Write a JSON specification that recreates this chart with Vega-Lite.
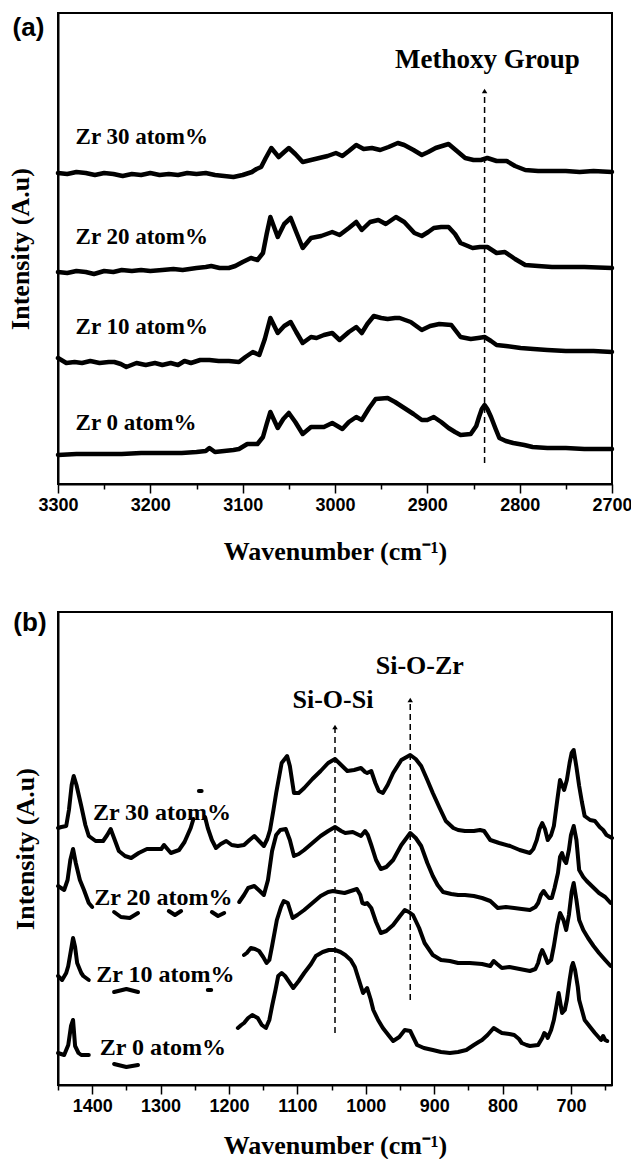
{
"$schema": "https://vega.github.io/schema/vega-lite/v6.json",
"background": "white",
"padding": {"left": 6, "top": 12, "right": 0, "bottom": 0},
"spacing": 44,
"align": "none",
"config": {
  "view": {"stroke": "black", "strokeWidth": 2},
  "axis": {"grid": false, "domainColor": "black", "domainWidth": 2, "titleColor": "black", "labelColor": "black", "tickColor": "black"},
  "text": {"color": "black"}
},
"datasets": {
"a_curves": [
{"s":"30","g":1,"wn":3300,"I":311},{"s":"30","g":1,"wn":3290,"I":310},{"s":"30","g":1,"wn":3280,"I":312},{"s":"30","g":1,"wn":3270,"I":311},{"s":"30","g":1,"wn":3260,"I":309},{"s":"30","g":1,"wn":3250,"I":311},{"s":"30","g":1,"wn":3240,"I":310},{"s":"30","g":1,"wn":3230,"I":308},{"s":"30","g":1,"wn":3220,"I":310},{"s":"30","g":1,"wn":3210,"I":309},{"s":"30","g":1,"wn":3200,"I":311},{"s":"30","g":1,"wn":3190,"I":309},{"s":"30","g":1,"wn":3180,"I":310},{"s":"30","g":1,"wn":3170,"I":309},{"s":"30","g":1,"wn":3160,"I":311},{"s":"30","g":1,"wn":3150,"I":310},{"s":"30","g":1,"wn":3140,"I":311},{"s":"30","g":1,"wn":3130,"I":309},{"s":"30","g":1,"wn":3120,"I":308},{"s":"30","g":1,"wn":3110,"I":307},{"s":"30","g":1,"wn":3100,"I":309},{"s":"30","g":1,"wn":3090,"I":312},{"s":"30","g":1,"wn":3085,"I":315},{"s":"30","g":1,"wn":3080,"I":317},{"s":"30","g":1,"wn":3075,"I":326},{"s":"30","g":1,"wn":3069,"I":336},{"s":"30","g":1,"wn":3061,"I":327},{"s":"30","g":1,"wn":3055,"I":332},{"s":"30","g":1,"wn":3050,"I":336},{"s":"30","g":1,"wn":3043,"I":330},{"s":"30","g":1,"wn":3035,"I":322},{"s":"30","g":1,"wn":3026,"I":324},{"s":"30","g":1,"wn":3017,"I":326},{"s":"30","g":1,"wn":3008,"I":328},{"s":"30","g":1,"wn":2999,"I":331},{"s":"30","g":1,"wn":2992,"I":328},{"s":"30","g":1,"wn":2985,"I":333},{"s":"30","g":1,"wn":2977,"I":339},{"s":"30","g":1,"wn":2969,"I":335},{"s":"30","g":1,"wn":2960,"I":336},{"s":"30","g":1,"wn":2951,"I":334},{"s":"30","g":1,"wn":2942,"I":337},{"s":"30","g":1,"wn":2932,"I":341},{"s":"30","g":1,"wn":2925,"I":339},{"s":"30","g":1,"wn":2915,"I":334},{"s":"30","g":1,"wn":2906,"I":329},{"s":"30","g":1,"wn":2899,"I":332},{"s":"30","g":1,"wn":2891,"I":336},{"s":"30","g":1,"wn":2884,"I":338},{"s":"30","g":1,"wn":2877,"I":340},{"s":"30","g":1,"wn":2868,"I":333},{"s":"30","g":1,"wn":2859,"I":326},{"s":"30","g":1,"wn":2850,"I":324},{"s":"30","g":1,"wn":2842,"I":324},{"s":"30","g":1,"wn":2835,"I":326},{"s":"30","g":1,"wn":2825,"I":323},{"s":"30","g":1,"wn":2814,"I":323},{"s":"30","g":1,"wn":2805,"I":318},{"s":"30","g":1,"wn":2794,"I":314},{"s":"30","g":1,"wn":2780,"I":313},{"s":"30","g":1,"wn":2765,"I":313},{"s":"30","g":1,"wn":2750,"I":313},{"s":"30","g":1,"wn":2735,"I":312},{"s":"30","g":1,"wn":2720,"I":313},{"s":"30","g":1,"wn":2700,"I":312},
{"s":"20","g":1,"wn":3300,"I":212},{"s":"20","g":1,"wn":3290,"I":211},{"s":"20","g":1,"wn":3280,"I":213},{"s":"20","g":1,"wn":3270,"I":212},{"s":"20","g":1,"wn":3261,"I":210},{"s":"20","g":1,"wn":3250,"I":213},{"s":"20","g":1,"wn":3240,"I":212},{"s":"20","g":1,"wn":3231,"I":214},{"s":"20","g":1,"wn":3220,"I":213},{"s":"20","g":1,"wn":3210,"I":214},{"s":"20","g":1,"wn":3200,"I":213},{"s":"20","g":1,"wn":3187,"I":214},{"s":"20","g":1,"wn":3175,"I":215},{"s":"20","g":1,"wn":3165,"I":214},{"s":"20","g":1,"wn":3150,"I":216},{"s":"20","g":1,"wn":3140,"I":217},{"s":"20","g":1,"wn":3134,"I":218},{"s":"20","g":1,"wn":3125,"I":216},{"s":"20","g":1,"wn":3115,"I":216},{"s":"20","g":1,"wn":3108,"I":218},{"s":"20","g":1,"wn":3100,"I":222},{"s":"20","g":1,"wn":3091,"I":226},{"s":"20","g":1,"wn":3084,"I":224},{"s":"20","g":1,"wn":3078,"I":231},{"s":"20","g":1,"wn":3074,"I":250},{"s":"20","g":1,"wn":3070,"I":267},{"s":"20","g":1,"wn":3062,"I":247},{"s":"20","g":1,"wn":3055,"I":260},{"s":"20","g":1,"wn":3048,"I":266},{"s":"20","g":1,"wn":3042,"I":252},{"s":"20","g":1,"wn":3035,"I":236},{"s":"20","g":1,"wn":3026,"I":246},{"s":"20","g":1,"wn":3015,"I":248},{"s":"20","g":1,"wn":3003,"I":252},{"s":"20","g":1,"wn":2995,"I":249},{"s":"20","g":1,"wn":2985,"I":256},{"s":"20","g":1,"wn":2977,"I":262},{"s":"20","g":1,"wn":2971,"I":254},{"s":"20","g":1,"wn":2962,"I":262},{"s":"20","g":1,"wn":2953,"I":264},{"s":"20","g":1,"wn":2945,"I":260},{"s":"20","g":1,"wn":2934,"I":267},{"s":"20","g":1,"wn":2925,"I":262},{"s":"20","g":1,"wn":2914,"I":251},{"s":"20","g":1,"wn":2906,"I":248},{"s":"20","g":1,"wn":2899,"I":252},{"s":"20","g":1,"wn":2893,"I":256},{"s":"20","g":1,"wn":2885,"I":257},{"s":"20","g":1,"wn":2877,"I":257},{"s":"20","g":1,"wn":2870,"I":250},{"s":"20","g":1,"wn":2864,"I":241},{"s":"20","g":1,"wn":2851,"I":236},{"s":"20","g":1,"wn":2843,"I":237},{"s":"20","g":1,"wn":2835,"I":237},{"s":"20","g":1,"wn":2825,"I":231},{"s":"20","g":1,"wn":2816,"I":232},{"s":"20","g":1,"wn":2805,"I":225},{"s":"20","g":1,"wn":2794,"I":219},{"s":"20","g":1,"wn":2780,"I":218},{"s":"20","g":1,"wn":2765,"I":217},{"s":"20","g":1,"wn":2750,"I":217},{"s":"20","g":1,"wn":2730,"I":217},{"s":"20","g":1,"wn":2700,"I":216},
{"s":"10","g":1,"wn":3300,"I":126},{"s":"10","g":1,"wn":3291,"I":121},{"s":"10","g":1,"wn":3282,"I":122},{"s":"10","g":1,"wn":3274,"I":121},{"s":"10","g":1,"wn":3265,"I":123},{"s":"10","g":1,"wn":3255,"I":121},{"s":"10","g":1,"wn":3245,"I":122},{"s":"10","g":1,"wn":3239,"I":122},{"s":"10","g":1,"wn":3232,"I":120},{"s":"10","g":1,"wn":3226,"I":117},{"s":"10","g":1,"wn":3215,"I":121},{"s":"10","g":1,"wn":3205,"I":119},{"s":"10","g":1,"wn":3195,"I":121},{"s":"10","g":1,"wn":3187,"I":119},{"s":"10","g":1,"wn":3178,"I":121},{"s":"10","g":1,"wn":3170,"I":119},{"s":"10","g":1,"wn":3163,"I":123},{"s":"10","g":1,"wn":3156,"I":121},{"s":"10","g":1,"wn":3146,"I":124},{"s":"10","g":1,"wn":3136,"I":124},{"s":"10","g":1,"wn":3126,"I":123},{"s":"10","g":1,"wn":3115,"I":123},{"s":"10","g":1,"wn":3104,"I":122},{"s":"10","g":1,"wn":3097,"I":127},{"s":"10","g":1,"wn":3089,"I":132},{"s":"10","g":1,"wn":3082,"I":129},{"s":"10","g":1,"wn":3076,"I":145},{"s":"10","g":1,"wn":3070,"I":166},{"s":"10","g":1,"wn":3062,"I":151},{"s":"10","g":1,"wn":3055,"I":158},{"s":"10","g":1,"wn":3048,"I":162},{"s":"10","g":1,"wn":3042,"I":152},{"s":"10","g":1,"wn":3035,"I":141},{"s":"10","g":1,"wn":3026,"I":147},{"s":"10","g":1,"wn":3020,"I":146},{"s":"10","g":1,"wn":3012,"I":149},{"s":"10","g":1,"wn":3003,"I":151},{"s":"10","g":1,"wn":2995,"I":144},{"s":"10","g":1,"wn":2985,"I":152},{"s":"10","g":1,"wn":2977,"I":157},{"s":"10","g":1,"wn":2971,"I":151},{"s":"10","g":1,"wn":2965,"I":160},{"s":"10","g":1,"wn":2958,"I":168},{"s":"10","g":1,"wn":2950,"I":166},{"s":"10","g":1,"wn":2943,"I":165},{"s":"10","g":1,"wn":2935,"I":166},{"s":"10","g":1,"wn":2930,"I":166},{"s":"10","g":1,"wn":2918,"I":162},{"s":"10","g":1,"wn":2906,"I":154},{"s":"10","g":1,"wn":2897,"I":158},{"s":"10","g":1,"wn":2887,"I":160},{"s":"10","g":1,"wn":2874,"I":159},{"s":"10","g":1,"wn":2864,"I":147},{"s":"10","g":1,"wn":2853,"I":145},{"s":"10","g":1,"wn":2845,"I":146},{"s":"10","g":1,"wn":2838,"I":147},{"s":"10","g":1,"wn":2831,"I":143},{"s":"10","g":1,"wn":2825,"I":139},{"s":"10","g":1,"wn":2815,"I":138},{"s":"10","g":1,"wn":2799,"I":136},{"s":"10","g":1,"wn":2785,"I":135},{"s":"10","g":1,"wn":2770,"I":134},{"s":"10","g":1,"wn":2750,"I":133},{"s":"10","g":1,"wn":2735,"I":133},{"s":"10","g":1,"wn":2720,"I":133},{"s":"10","g":1,"wn":2700,"I":132},
{"s":"0","g":1,"wn":3300,"I":29},{"s":"0","g":1,"wn":3280,"I":30},{"s":"0","g":1,"wn":3260,"I":30},{"s":"0","g":1,"wn":3240,"I":30},{"s":"0","g":1,"wn":3231,"I":30},{"s":"0","g":1,"wn":3210,"I":31},{"s":"0","g":1,"wn":3190,"I":31},{"s":"0","g":1,"wn":3166,"I":31},{"s":"0","g":1,"wn":3150,"I":32},{"s":"0","g":1,"wn":3140,"I":33},{"s":"0","g":1,"wn":3136,"I":36},{"s":"0","g":1,"wn":3130,"I":32},{"s":"0","g":1,"wn":3120,"I":33},{"s":"0","g":1,"wn":3110,"I":34},{"s":"0","g":1,"wn":3104,"I":35},{"s":"0","g":1,"wn":3095,"I":40},{"s":"0","g":1,"wn":3084,"I":40},{"s":"0","g":1,"wn":3078,"I":47},{"s":"0","g":1,"wn":3074,"I":60},{"s":"0","g":1,"wn":3070,"I":72},{"s":"0","g":1,"wn":3062,"I":56},{"s":"0","g":1,"wn":3056,"I":65},{"s":"0","g":1,"wn":3050,"I":71},{"s":"0","g":1,"wn":3043,"I":62},{"s":"0","g":1,"wn":3035,"I":50},{"s":"0","g":1,"wn":3026,"I":57},{"s":"0","g":1,"wn":3012,"I":57},{"s":"0","g":1,"wn":3003,"I":61},{"s":"0","g":1,"wn":2992,"I":55},{"s":"0","g":1,"wn":2985,"I":62},{"s":"0","g":1,"wn":2977,"I":67},{"s":"0","g":1,"wn":2971,"I":64},{"s":"0","g":1,"wn":2963,"I":76},{"s":"0","g":1,"wn":2956,"I":85},{"s":"0","g":1,"wn":2943,"I":86},{"s":"0","g":1,"wn":2935,"I":82},{"s":"0","g":1,"wn":2925,"I":76},{"s":"0","g":1,"wn":2915,"I":70},{"s":"0","g":1,"wn":2906,"I":64},{"s":"0","g":1,"wn":2900,"I":64},{"s":"0","g":1,"wn":2893,"I":67},{"s":"0","g":1,"wn":2885,"I":62},{"s":"0","g":1,"wn":2877,"I":56},{"s":"0","g":1,"wn":2870,"I":52},{"s":"0","g":1,"wn":2864,"I":49},{"s":"0","g":1,"wn":2853,"I":50},{"s":"0","g":1,"wn":2847,"I":58},{"s":"0","g":1,"wn":2844,"I":67},{"s":"0","g":1,"wn":2841,"I":75},{"s":"0","g":1,"wn":2838,"I":79},{"s":"0","g":1,"wn":2835,"I":75},{"s":"0","g":1,"wn":2831,"I":67},{"s":"0","g":1,"wn":2826,"I":55},{"s":"0","g":1,"wn":2822,"I":46},{"s":"0","g":1,"wn":2815,"I":43},{"s":"0","g":1,"wn":2807,"I":41},{"s":"0","g":1,"wn":2795,"I":39},{"s":"0","g":1,"wn":2786,"I":37},{"s":"0","g":1,"wn":2770,"I":36},{"s":"0","g":1,"wn":2750,"I":36},{"s":"0","g":1,"wn":2730,"I":35},{"s":"0","g":1,"wn":2700,"I":35}
],
"a_labels": [
{"t":"Zr 30 atom%","wn":3281,"I":347},{"t":"Zr 20 atom%","wn":3281,"I":247},{"t":"Zr 10 atom%","wn":3281,"I":157},{"t":"Zr 0 atom%","wn":3281,"I":61}
],
"a_notes": [{"t":"Methoxy Group","wn":2835,"I":424}],
"a_arrows": [{"wn":2838,"I1":21,"I2":393}],
"a_panel": [{"t":"(a)","wn":3332,"I":456}],
"b_curves": [
{"s":"30","g":1,"wn":1450,"I":257},{"s":"30","g":1,"wn":1445,"I":258},{"s":"30","g":1,"wn":1438,"I":259},{"s":"30","g":1,"wn":1434,"I":275},{"s":"30","g":1,"wn":1430,"I":300},{"s":"30","g":1,"wn":1427,"I":309},{"s":"30","g":1,"wn":1423,"I":300},{"s":"30","g":1,"wn":1416,"I":279},{"s":"30","g":1,"wn":1410,"I":260},{"s":"30","g":1,"wn":1405,"I":249},{"s":"30","g":1,"wn":1395,"I":244},{"s":"30","g":1,"wn":1384,"I":244},{"s":"30","g":1,"wn":1378,"I":250},{"s":"30","g":1,"wn":1373,"I":256},{"s":"30","g":1,"wn":1367,"I":245},{"s":"30","g":1,"wn":1361,"I":234},{"s":"30","g":1,"wn":1352,"I":229},{"s":"30","g":1,"wn":1343,"I":227},{"s":"30","g":1,"wn":1332,"I":232},{"s":"30","g":1,"wn":1320,"I":236},{"s":"30","g":1,"wn":1310,"I":236},{"s":"30","g":1,"wn":1299,"I":236},{"s":"30","g":1,"wn":1295,"I":240},{"s":"30","g":1,"wn":1290,"I":236},{"s":"30","g":1,"wn":1285,"I":232},{"s":"30","g":1,"wn":1273,"I":235},{"s":"30","g":1,"wn":1265,"I":243},{"s":"30","g":1,"wn":1256,"I":257},{"s":"30","g":1,"wn":1252,"I":266},
{"s":"30","g":2,"wn":1244,"I":294},{"s":"30","g":2,"wn":1240,"I":294},
{"s":"30","g":3,"wn":1235,"I":268},{"s":"30","g":3,"wn":1231,"I":257},{"s":"30","g":3,"wn":1225,"I":245},{"s":"30","g":3,"wn":1219,"I":237},{"s":"30","g":3,"wn":1212,"I":241},{"s":"30","g":3,"wn":1204,"I":244},{"s":"30","g":3,"wn":1196,"I":240},{"s":"30","g":3,"wn":1187,"I":239},{"s":"30","g":3,"wn":1178,"I":240},{"s":"30","g":3,"wn":1170,"I":245},{"s":"30","g":3,"wn":1163,"I":249},{"s":"30","g":3,"wn":1156,"I":244},{"s":"30","g":3,"wn":1149,"I":239},{"s":"30","g":3,"wn":1144,"I":246},{"s":"30","g":3,"wn":1140,"I":255},{"s":"30","g":3,"wn":1135,"I":275},{"s":"30","g":3,"wn":1131,"I":292},{"s":"30","g":3,"wn":1123,"I":322},{"s":"30","g":3,"wn":1115,"I":329},{"s":"30","g":3,"wn":1111,"I":319},{"s":"30","g":3,"wn":1105,"I":292},{"s":"30","g":3,"wn":1098,"I":292},{"s":"30","g":3,"wn":1090,"I":297},{"s":"30","g":3,"wn":1078,"I":306},{"s":"30","g":3,"wn":1066,"I":314},{"s":"30","g":3,"wn":1055,"I":322},{"s":"30","g":3,"wn":1045,"I":326},{"s":"30","g":3,"wn":1036,"I":320},{"s":"30","g":3,"wn":1027,"I":314},{"s":"30","g":3,"wn":1017,"I":315},{"s":"30","g":3,"wn":1007,"I":317},{"s":"30","g":3,"wn":1001,"I":313},{"s":"30","g":3,"wn":998,"I":312},{"s":"30","g":3,"wn":992,"I":314},{"s":"30","g":3,"wn":986,"I":302},{"s":"30","g":3,"wn":981,"I":294},{"s":"30","g":3,"wn":975,"I":292},{"s":"30","g":3,"wn":968,"I":300},{"s":"30","g":3,"wn":960,"I":312},{"s":"30","g":3,"wn":948,"I":325},{"s":"30","g":3,"wn":935,"I":330},{"s":"30","g":3,"wn":927,"I":326},{"s":"30","g":3,"wn":919,"I":319},{"s":"30","g":3,"wn":910,"I":305},{"s":"30","g":3,"wn":902,"I":292},{"s":"30","g":3,"wn":892,"I":277},{"s":"30","g":3,"wn":883,"I":264},{"s":"30","g":3,"wn":872,"I":257},{"s":"30","g":3,"wn":865,"I":255},{"s":"30","g":3,"wn":855,"I":254},{"s":"30","g":3,"wn":842,"I":254},{"s":"30","g":3,"wn":833,"I":255},{"s":"30","g":3,"wn":827,"I":254},{"s":"30","g":3,"wn":818,"I":245},{"s":"30","g":3,"wn":805,"I":242},{"s":"30","g":3,"wn":789,"I":239},{"s":"30","g":3,"wn":775,"I":235},{"s":"30","g":3,"wn":760,"I":232},{"s":"30","g":3,"wn":755,"I":236},{"s":"30","g":3,"wn":750,"I":245},{"s":"30","g":3,"wn":746,"I":256},{"s":"30","g":3,"wn":742,"I":262},{"s":"30","g":3,"wn":738,"I":256},{"s":"30","g":3,"wn":734,"I":245},{"s":"30","g":3,"wn":729,"I":250},{"s":"30","g":3,"wn":725,"I":259},{"s":"30","g":3,"wn":720,"I":285},{"s":"30","g":3,"wn":716,"I":305},{"s":"30","g":3,"wn":713,"I":300},{"s":"30","g":3,"wn":710,"I":295},{"s":"30","g":3,"wn":706,"I":305},{"s":"30","g":3,"wn":702,"I":322},{"s":"30","g":3,"wn":699,"I":332},{"s":"30","g":3,"wn":696,"I":335},{"s":"30","g":3,"wn":692,"I":318},{"s":"30","g":3,"wn":688,"I":299},{"s":"30","g":3,"wn":684,"I":283},{"s":"30","g":3,"wn":680,"I":269},{"s":"30","g":3,"wn":672,"I":265},{"s":"30","g":3,"wn":665,"I":264},{"s":"30","g":3,"wn":658,"I":258},{"s":"30","g":3,"wn":653,"I":255},{"s":"30","g":3,"wn":648,"I":250},{"s":"30","g":3,"wn":640,"I":247},
{"s":"20","g":1,"wn":1450,"I":199},{"s":"20","g":1,"wn":1441,"I":195},{"s":"20","g":1,"wn":1436,"I":205},{"s":"20","g":1,"wn":1432,"I":225},{"s":"20","g":1,"wn":1428,"I":236},{"s":"20","g":1,"wn":1424,"I":222},{"s":"20","g":1,"wn":1418,"I":205},{"s":"20","g":1,"wn":1412,"I":195},{"s":"20","g":1,"wn":1405,"I":182},{"s":"20","g":1,"wn":1400,"I":178},
{"s":"20","g":2,"wn":1368,"I":173},{"s":"20","g":2,"wn":1358,"I":168},{"s":"20","g":2,"wn":1345,"I":167},{"s":"20","g":2,"wn":1333,"I":172},
{"s":"20","g":3,"wn":1288,"I":174},{"s":"20","g":3,"wn":1279,"I":170},{"s":"20","g":3,"wn":1270,"I":174},
{"s":"20","g":4,"wn":1225,"I":173},{"s":"20","g":4,"wn":1216,"I":169},{"s":"20","g":4,"wn":1207,"I":172},
{"s":"20","g":5,"wn":1185,"I":183},{"s":"20","g":5,"wn":1178,"I":190},{"s":"20","g":5,"wn":1172,"I":197},{"s":"20","g":5,"wn":1163,"I":199},{"s":"20","g":5,"wn":1155,"I":194},{"s":"20","g":5,"wn":1149,"I":190},{"s":"20","g":5,"wn":1143,"I":205},{"s":"20","g":5,"wn":1137,"I":234},{"s":"20","g":5,"wn":1131,"I":250},{"s":"20","g":5,"wn":1125,"I":255},{"s":"20","g":5,"wn":1117,"I":256},{"s":"20","g":5,"wn":1111,"I":245},{"s":"20","g":5,"wn":1105,"I":229},{"s":"20","g":5,"wn":1098,"I":231},{"s":"20","g":5,"wn":1090,"I":235},{"s":"20","g":5,"wn":1078,"I":242},{"s":"20","g":5,"wn":1066,"I":249},{"s":"20","g":5,"wn":1055,"I":254},{"s":"20","g":5,"wn":1045,"I":258},{"s":"20","g":5,"wn":1036,"I":254},{"s":"20","g":5,"wn":1030,"I":252},{"s":"20","g":5,"wn":1019,"I":253},{"s":"20","g":5,"wn":1007,"I":249},{"s":"20","g":5,"wn":1001,"I":254},{"s":"20","g":5,"wn":997,"I":250},{"s":"20","g":5,"wn":992,"I":240},{"s":"20","g":5,"wn":985,"I":225},{"s":"20","g":5,"wn":978,"I":216},{"s":"20","g":5,"wn":970,"I":218},{"s":"20","g":5,"wn":960,"I":225},{"s":"20","g":5,"wn":948,"I":240},{"s":"20","g":5,"wn":935,"I":252},{"s":"20","g":5,"wn":927,"I":247},{"s":"20","g":5,"wn":919,"I":239},{"s":"20","g":5,"wn":910,"I":222},{"s":"20","g":5,"wn":902,"I":209},{"s":"20","g":5,"wn":895,"I":200},{"s":"20","g":5,"wn":887,"I":193},{"s":"20","g":5,"wn":875,"I":191},{"s":"20","g":5,"wn":865,"I":190},{"s":"20","g":5,"wn":855,"I":190},{"s":"20","g":5,"wn":842,"I":189},{"s":"20","g":5,"wn":830,"I":187},{"s":"20","g":5,"wn":818,"I":184},{"s":"20","g":5,"wn":807,"I":177},{"s":"20","g":5,"wn":795,"I":178},{"s":"20","g":5,"wn":783,"I":177},{"s":"20","g":5,"wn":772,"I":176},{"s":"20","g":5,"wn":760,"I":175},{"s":"20","g":5,"wn":752,"I":178},{"s":"20","g":5,"wn":748,"I":182},{"s":"20","g":5,"wn":744,"I":190},{"s":"20","g":5,"wn":740,"I":194},{"s":"20","g":5,"wn":736,"I":190},{"s":"20","g":5,"wn":732,"I":187},{"s":"20","g":5,"wn":728,"I":187},{"s":"20","g":5,"wn":724,"I":197},{"s":"20","g":5,"wn":719,"I":212},{"s":"20","g":5,"wn":716,"I":228},{"s":"20","g":5,"wn":713,"I":232},{"s":"20","g":5,"wn":710,"I":225},{"s":"20","g":5,"wn":707,"I":222},{"s":"20","g":5,"wn":703,"I":235},{"s":"20","g":5,"wn":700,"I":250},{"s":"20","g":5,"wn":696,"I":259},{"s":"20","g":5,"wn":692,"I":245},{"s":"20","g":5,"wn":688,"I":215},{"s":"20","g":5,"wn":682,"I":208},{"s":"20","g":5,"wn":677,"I":204},{"s":"20","g":5,"wn":668,"I":198},{"s":"20","g":5,"wn":659,"I":192},{"s":"20","g":5,"wn":650,"I":188},{"s":"20","g":5,"wn":642,"I":182},
{"s":"10","g":1,"wn":1450,"I":109},{"s":"10","g":1,"wn":1444,"I":105},{"s":"10","g":1,"wn":1438,"I":112},{"s":"10","g":1,"wn":1435,"I":119},{"s":"10","g":1,"wn":1431,"I":135},{"s":"10","g":1,"wn":1428,"I":147},{"s":"10","g":1,"wn":1425,"I":138},{"s":"10","g":1,"wn":1422,"I":122},{"s":"10","g":1,"wn":1416,"I":112},{"s":"10","g":1,"wn":1413,"I":109},{"s":"10","g":1,"wn":1405,"I":105},
{"s":"10","g":2,"wn":1368,"I":93},{"s":"10","g":2,"wn":1350,"I":96},{"s":"10","g":2,"wn":1333,"I":93},
{"s":"10","g":3,"wn":1231,"I":95},{"s":"10","g":3,"wn":1226,"I":95},
{"s":"10","g":4,"wn":1178,"I":130},{"s":"10","g":4,"wn":1174,"I":132},{"s":"10","g":4,"wn":1168,"I":137},{"s":"10","g":4,"wn":1162,"I":136},{"s":"10","g":4,"wn":1156,"I":134},{"s":"10","g":4,"wn":1150,"I":128},{"s":"10","g":4,"wn":1145,"I":122},{"s":"10","g":4,"wn":1141,"I":125},{"s":"10","g":4,"wn":1137,"I":139},{"s":"10","g":4,"wn":1130,"I":165},{"s":"10","g":4,"wn":1124,"I":178},{"s":"10","g":4,"wn":1120,"I":184},{"s":"10","g":4,"wn":1114,"I":182},{"s":"10","g":4,"wn":1107,"I":167},{"s":"10","g":4,"wn":1100,"I":170},{"s":"10","g":4,"wn":1090,"I":175},{"s":"10","g":4,"wn":1078,"I":182},{"s":"10","g":4,"wn":1066,"I":189},{"s":"10","g":4,"wn":1055,"I":193},{"s":"10","g":4,"wn":1048,"I":194},{"s":"10","g":4,"wn":1040,"I":193},{"s":"10","g":4,"wn":1031,"I":192},{"s":"10","g":4,"wn":1022,"I":194},{"s":"10","g":4,"wn":1013,"I":196},{"s":"10","g":4,"wn":1008,"I":190},{"s":"10","g":4,"wn":1005,"I":182},{"s":"10","g":4,"wn":1001,"I":181},{"s":"10","g":4,"wn":998,"I":182},{"s":"10","g":4,"wn":992,"I":177},{"s":"10","g":4,"wn":985,"I":163},{"s":"10","g":4,"wn":978,"I":152},{"s":"10","g":4,"wn":970,"I":154},{"s":"10","g":4,"wn":960,"I":160},{"s":"10","g":4,"wn":950,"I":169},{"s":"10","g":4,"wn":943,"I":175},{"s":"10","g":4,"wn":937,"I":173},{"s":"10","g":4,"wn":931,"I":170},{"s":"10","g":4,"wn":922,"I":157},{"s":"10","g":4,"wn":914,"I":142},{"s":"10","g":4,"wn":902,"I":130},{"s":"10","g":4,"wn":890,"I":125},{"s":"10","g":4,"wn":877,"I":124},{"s":"10","g":4,"wn":865,"I":122},{"s":"10","g":4,"wn":848,"I":122},{"s":"10","g":4,"wn":830,"I":121},{"s":"10","g":4,"wn":818,"I":119},{"s":"10","g":4,"wn":813,"I":124},{"s":"10","g":4,"wn":808,"I":121},{"s":"10","g":4,"wn":801,"I":117},{"s":"10","g":4,"wn":790,"I":118},{"s":"10","g":4,"wn":775,"I":116},{"s":"10","g":4,"wn":760,"I":114},{"s":"10","g":4,"wn":752,"I":116},{"s":"10","g":4,"wn":748,"I":122},{"s":"10","g":4,"wn":745,"I":130},{"s":"10","g":4,"wn":742,"I":135},{"s":"10","g":4,"wn":738,"I":129},{"s":"10","g":4,"wn":734,"I":122},{"s":"10","g":4,"wn":729,"I":125},{"s":"10","g":4,"wn":725,"I":139},{"s":"10","g":4,"wn":720,"I":160},{"s":"10","g":4,"wn":716,"I":172},{"s":"10","g":4,"wn":711,"I":165},{"s":"10","g":4,"wn":707,"I":155},{"s":"10","g":4,"wn":703,"I":170},{"s":"10","g":4,"wn":699,"I":193},{"s":"10","g":4,"wn":696,"I":202},{"s":"10","g":4,"wn":692,"I":185},{"s":"10","g":4,"wn":688,"I":165},{"s":"10","g":4,"wn":682,"I":155},{"s":"10","g":4,"wn":675,"I":147},{"s":"10","g":4,"wn":667,"I":139},{"s":"10","g":4,"wn":659,"I":132},{"s":"10","g":4,"wn":650,"I":125},{"s":"10","g":4,"wn":642,"I":119},
{"s":"0","g":1,"wn":1450,"I":32},{"s":"0","g":1,"wn":1441,"I":30},{"s":"0","g":1,"wn":1435,"I":40},{"s":"0","g":1,"wn":1431,"I":59},{"s":"0","g":1,"wn":1428,"I":65},{"s":"0","g":1,"wn":1425,"I":39},{"s":"0","g":1,"wn":1420,"I":32},{"s":"0","g":1,"wn":1416,"I":30},{"s":"0","g":1,"wn":1405,"I":30},
{"s":"0","g":2,"wn":1368,"I":21},{"s":"0","g":2,"wn":1350,"I":18},{"s":"0","g":2,"wn":1333,"I":20},
{"s":"0","g":3,"wn":1187,"I":57},{"s":"0","g":3,"wn":1182,"I":60},{"s":"0","g":3,"wn":1178,"I":62},{"s":"0","g":3,"wn":1172,"I":67},{"s":"0","g":3,"wn":1166,"I":70},{"s":"0","g":3,"wn":1158,"I":67},{"s":"0","g":3,"wn":1152,"I":60},{"s":"0","g":3,"wn":1146,"I":57},{"s":"0","g":3,"wn":1141,"I":65},{"s":"0","g":3,"wn":1137,"I":79},{"s":"0","g":3,"wn":1132,"I":95},{"s":"0","g":3,"wn":1128,"I":109},{"s":"0","g":3,"wn":1123,"I":112},{"s":"0","g":3,"wn":1118,"I":109},{"s":"0","g":3,"wn":1114,"I":105},{"s":"0","g":3,"wn":1106,"I":97},{"s":"0","g":3,"wn":1098,"I":104},{"s":"0","g":3,"wn":1090,"I":112},{"s":"0","g":3,"wn":1080,"I":121},{"s":"0","g":3,"wn":1073,"I":129},{"s":"0","g":3,"wn":1063,"I":133},{"s":"0","g":3,"wn":1054,"I":135},{"s":"0","g":3,"wn":1045,"I":135},{"s":"0","g":3,"wn":1037,"I":133},{"s":"0","g":3,"wn":1030,"I":130},{"s":"0","g":3,"wn":1022,"I":125},{"s":"0","g":3,"wn":1016,"I":118},{"s":"0","g":3,"wn":1010,"I":105},{"s":"0","g":3,"wn":1004,"I":92},{"s":"0","g":3,"wn":998,"I":97},{"s":"0","g":3,"wn":993,"I":86},{"s":"0","g":3,"wn":989,"I":75},{"s":"0","g":3,"wn":982,"I":65},{"s":"0","g":3,"wn":975,"I":57},{"s":"0","g":3,"wn":967,"I":50},{"s":"0","g":3,"wn":960,"I":44},{"s":"0","g":3,"wn":951,"I":48},{"s":"0","g":3,"wn":943,"I":55},{"s":"0","g":3,"wn":935,"I":54},{"s":"0","g":3,"wn":930,"I":47},{"s":"0","g":3,"wn":925,"I":40},{"s":"0","g":3,"wn":915,"I":37},{"s":"0","g":3,"wn":902,"I":35},{"s":"0","g":3,"wn":890,"I":33},{"s":"0","g":3,"wn":877,"I":32},{"s":"0","g":3,"wn":865,"I":33},{"s":"0","g":3,"wn":853,"I":35},{"s":"0","g":3,"wn":842,"I":40},{"s":"0","g":3,"wn":835,"I":43},{"s":"0","g":3,"wn":830,"I":45},{"s":"0","g":3,"wn":822,"I":50},{"s":"0","g":3,"wn":813,"I":57},{"s":"0","g":3,"wn":806,"I":54},{"s":"0","g":3,"wn":801,"I":52},{"s":"0","g":3,"wn":790,"I":51},{"s":"0","g":3,"wn":783,"I":50},{"s":"0","g":3,"wn":776,"I":46},{"s":"0","g":3,"wn":772,"I":42},{"s":"0","g":3,"wn":765,"I":40},{"s":"0","g":3,"wn":760,"I":39},{"s":"0","g":3,"wn":748,"I":40},{"s":"0","g":3,"wn":742,"I":47},{"s":"0","g":3,"wn":739,"I":52},{"s":"0","g":3,"wn":736,"I":50},{"s":"0","g":3,"wn":734,"I":47},{"s":"0","g":3,"wn":729,"I":55},{"s":"0","g":3,"wn":725,"I":65},{"s":"0","g":3,"wn":721,"I":80},{"s":"0","g":3,"wn":718,"I":92},{"s":"0","g":3,"wn":713,"I":72},{"s":"0","g":3,"wn":709,"I":75},{"s":"0","g":3,"wn":706,"I":85},{"s":"0","g":3,"wn":702,"I":105},{"s":"0","g":3,"wn":699,"I":118},{"s":"0","g":3,"wn":697,"I":122},{"s":"0","g":3,"wn":694,"I":115},{"s":"0","g":3,"wn":690,"I":98},{"s":"0","g":3,"wn":688,"I":85},{"s":"0","g":3,"wn":684,"I":75},{"s":"0","g":3,"wn":680,"I":65},{"s":"0","g":3,"wn":672,"I":58},{"s":"0","g":3,"wn":665,"I":52},{"s":"0","g":3,"wn":656,"I":45},{"s":"0","g":3,"wn":653,"I":49},{"s":"0","g":3,"wn":650,"I":45},{"s":"0","g":3,"wn":647,"I":44}
],
"b_labels": [
{"t":"Zr 30 atom%","wn":1399,"I":272},{"t":"Zr 20 atom%","wn":1397,"I":187},{"t":"Zr 10 atom%","wn":1394,"I":110},{"t":"Zr 0 atom%","wn":1389,"I":37}
],
"b_notes": [{"t":"Si-O-Si","wn":1048,"I":385},{"t":"Si-O-Zr","wn":921,"I":419}],
"b_arrows": [{"wn":1045,"I1":52,"I2":358},{"wn":935,"I1":85,"I2":385}],
"b_panel": [{"t":"(b)","wn":1491,"I":462}]
},
"vconcat": [
{
  "width": 554, "height": 471,
  "resolve": {"axis": {"x": "independent"}},
  "layer": [
    {"data": {"name": "a_curves"},
     "mark": {"type": "line", "color": "black", "strokeWidth": 4.5, "strokeJoin": "round", "strokeCap": "round"},
     "encoding": {
       "x": {"field": "wn", "type": "quantitative", "title": "Wavenumber (cm⁻¹)",
             "scale": {"domain": [2700, 3300], "reverse": true, "nice": false, "zero": false},
             "axis": {"orient": "bottom", "values": [3300,3200,3100,3000,2900,2800,2700],
                      "format": "d", "labelOverlap": false, "labelFlush": false,
                      "tickWidth": 1.5, "tickSize": 9,
                      "labelFont": "Liberation Sans", "labelFontWeight": "bold", "labelFontSize": 18, "labelPadding": 3,
                      "titleFont": "Liberation Serif", "titleFontWeight": "bold", "titleFontSize": 26, "titlePadding": 24}},
       "y": {"field": "I", "type": "quantitative", "title": "Intensity (A.u)",
             "scale": {"domain": [0, 471], "nice": false},
             "axis": {"ticks": false, "labels": false,
                      "titleFont": "Liberation Serif", "titleFontWeight": "bold", "titleFontSize": 26, "titlePadding": 25}},
       "detail": [{"field": "s"}, {"field": "g"}]
     }},
    {"data": {"name": "a_arrows"},
     "mark": {"type": "rule", "color": "black", "strokeWidth": 1.5, "strokeDash": [6, 4]},
     "encoding": {"x": {"field": "wn", "type": "quantitative",
                        "axis": {"orient": "bottom", "values": [3250,3150,3050,2950,2850,2750], "labels": false, "domain": false, "tickWidth": 1.5, "tickSize": 5, "title": null}},
                  "y": {"field": "I1", "type": "quantitative"}, "y2": {"field": "I2"}}},
    {"data": {"name": "a_arrows"},
     "mark": {"type": "point", "shape": "triangle-up", "filled": true, "color": "black", "size": 30, "opacity": 1},
     "encoding": {"x": {"field": "wn", "type": "quantitative", "axis": null}, "y": {"field": "I2", "type": "quantitative"}}},
    {"data": {"name": "a_labels"},
     "mark": {"type": "text", "align": "left", "baseline": "middle", "font": "Liberation Serif", "fontWeight": "bold", "fontSize": 23},
     "encoding": {"x": {"field": "wn", "type": "quantitative", "axis": null}, "y": {"field": "I", "type": "quantitative"}, "text": {"field": "t"}}},
    {"data": {"name": "a_notes"},
     "mark": {"type": "text", "align": "center", "baseline": "middle", "font": "Liberation Serif", "fontWeight": "bold", "fontSize": 27},
     "encoding": {"x": {"field": "wn", "type": "quantitative", "axis": null}, "y": {"field": "I", "type": "quantitative"}, "text": {"field": "t"}}},
    {"data": {"name": "a_panel"},
     "mark": {"type": "text", "align": "center", "baseline": "middle", "font": "Liberation Sans", "fontWeight": "bold", "fontSize": 26},
     "encoding": {"x": {"field": "wn", "type": "quantitative", "axis": null}, "y": {"field": "I", "type": "quantitative"}, "text": {"field": "t"}}}
  ]
},
{
  "width": 554, "height": 473,
  "resolve": {"axis": {"x": "independent"}},
  "layer": [
    {"data": {"name": "b_curves"},
     "mark": {"type": "line", "color": "black", "strokeWidth": 4, "strokeJoin": "round", "strokeCap": "round"},
     "encoding": {
       "x": {"field": "wn", "type": "quantitative", "title": "Wavenumber (cm⁻¹)",
             "scale": {"domain": [640, 1450], "reverse": true, "nice": false, "zero": false},
             "axis": {"orient": "bottom", "values": [1400,1300,1200,1100,1000,900,800,700],
                      "format": "d", "labelOverlap": false, "labelFlush": false,
                      "tickWidth": 1.5, "tickSize": 9,
                      "labelFont": "Liberation Sans", "labelFontWeight": "bold", "labelFontSize": 18, "labelPadding": 3,
                      "titleFont": "Liberation Serif", "titleFontWeight": "bold", "titleFontSize": 26, "titlePadding": 17}},
       "y": {"field": "I", "type": "quantitative", "title": "Intensity (A.u)",
             "scale": {"domain": [0, 473], "nice": false},
             "axis": {"ticks": false, "labels": false,
                      "titleFont": "Liberation Serif", "titleFontWeight": "bold", "titleFontSize": 26, "titlePadding": 20}},
       "detail": [{"field": "s"}, {"field": "g"}]
     }},
    {"data": {"name": "b_arrows"},
     "mark": {"type": "rule", "color": "black", "strokeWidth": 1.5, "strokeDash": [6, 4]},
     "encoding": {"x": {"field": "wn", "type": "quantitative",
                        "axis": {"orient": "bottom", "values": [1450,1350,1250,1150,1050,950,850,750,650], "labels": false, "domain": false, "tickWidth": 1.5, "tickSize": 5, "title": null}},
                  "y": {"field": "I1", "type": "quantitative"}, "y2": {"field": "I2"}}},
    {"data": {"name": "b_arrows"},
     "mark": {"type": "point", "shape": "triangle-up", "filled": true, "color": "black", "size": 30, "opacity": 1},
     "encoding": {"x": {"field": "wn", "type": "quantitative", "axis": null}, "y": {"field": "I2", "type": "quantitative"}}},
    {"data": {"name": "b_labels"},
     "mark": {"type": "text", "align": "left", "baseline": "middle", "font": "Liberation Serif", "fontWeight": "bold", "fontSize": 24},
     "encoding": {"x": {"field": "wn", "type": "quantitative", "axis": null}, "y": {"field": "I", "type": "quantitative"}, "text": {"field": "t"}}},
    {"data": {"name": "b_notes"},
     "mark": {"type": "text", "align": "center", "baseline": "middle", "font": "Liberation Serif", "fontWeight": "bold", "fontSize": 26},
     "encoding": {"x": {"field": "wn", "type": "quantitative", "axis": null}, "y": {"field": "I", "type": "quantitative"}, "text": {"field": "t"}}},
    {"data": {"name": "b_panel"},
     "mark": {"type": "text", "align": "center", "baseline": "middle", "font": "Liberation Sans", "fontWeight": "bold", "fontSize": 26},
     "encoding": {"x": {"field": "wn", "type": "quantitative", "axis": null}, "y": {"field": "I", "type": "quantitative"}, "text": {"field": "t"}}}
  ]
}
]
}
